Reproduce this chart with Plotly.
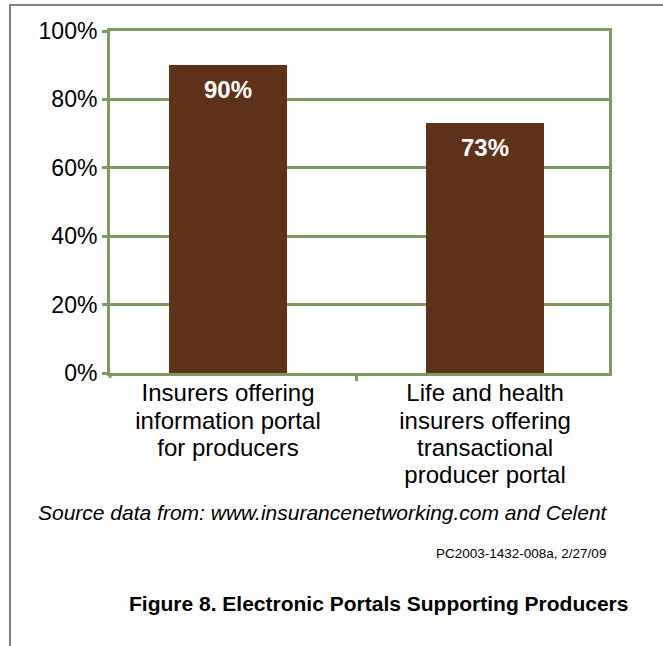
import plotly.graph_objects as go

categories = ["Insurers offering information portal for producers",
              "Life and health insurers offering transactional producer portal"]
category_lines = [["Insurers offering", "information portal", "for producers"],
                  ["Life and health", "insurers offering", "transactional", "producer portal"]]
values = [0.90, 0.73]
value_labels = ["90%", "73%"]
y_tick_vals = [0, 0.2, 0.4, 0.6, 0.8, 1.0]
y_tick_text = ["0%", "20%", "40%", "60%", "80%", "100%"]

source_text = "Source data from: www.insurancenetworking.com and Celent"
footer_text = "PC2003-1432-008a, 2/27/09"
title_text = "Figure 8. Electronic Portals Supporting Producers"

W_FIG, H_FIG = 663, 646
L, T, R_EDGE, B_EDGE = 110, 31, 609, 373
PW, PH = R_EDGE - L, B_EDGE - T

def px(x):
    return (x - L) / PW

def py(y):
    return (B_EDGE - y) / PH

FONT = "Liberation Sans, Arial, sans-serif"
GREEN = "#7F9A60"
BROWN = "#5E3219"

tick_text = ["<br>".join('<span style="font-size:24px">%s</span>' % ln for ln in lines)
             for lines in category_lines]

fig = go.Figure()
fig.add_trace(go.Bar(
    x=categories, y=values, width=0.459,
    marker=dict(color=BROWN, line=dict(width=0)),
    hoverinfo="skip",
))

for cat, val, lab in zip(categories, values, value_labels):
    fig.add_annotation(x=cat, y=val, xref="x", yref="y", text=lab,
                       showarrow=False, yanchor="top", yshift=-9,
                       font=dict(family=FONT, size=24, color="white", weight="bold"))

fig.update_layout(
    width=W_FIG, height=H_FIG,
    margin=dict(l=L, r=W_FIG - R_EDGE, t=T, b=H_FIG - B_EDGE, pad=0),
    paper_bgcolor="white", plot_bgcolor="white",
    showlegend=False, bargap=0,
    font=dict(family=FONT, color="black"),
    xaxis=dict(
        range=[-0.459, 1.482], showgrid=False,
        tickmode="array", tickvals=categories, ticktext=tick_text,
        showline=True, linecolor=GREEN, linewidth=3, mirror=True,
        ticks="outside", tickson="boundaries", ticklen=5, tickwidth=3, tickcolor=GREEN,
        tickfont=dict(family=FONT, size=21, color="black"),
        zeroline=False,
    ),
    yaxis=dict(
        range=[0, 1.0], tickvals=y_tick_vals, ticktext=y_tick_text,
        showgrid=True, gridcolor=GREEN, gridwidth=3,
        showline=True, linecolor=GREEN, linewidth=3, mirror=True,
        ticks="outside", ticklen=5, tickwidth=3, tickcolor=GREEN,
        tickfont=dict(family=FONT, size=23, color="black"),
        zeroline=False,
    ),
)

# outer gray frame (top and left edges)
fig.add_shape(type="line", xref="paper", yref="paper",
              x0=px(9), x1=px(663), y0=py(5), y1=py(5),
              line=dict(color="#808080", width=2))
fig.add_shape(type="line", xref="paper", yref="paper",
              x0=px(10), x1=px(10), y0=py(4), y1=py(646),
              line=dict(color="#808080", width=2))
# small tick below left axis corner
fig.add_shape(type="line", xref="paper", yref="paper",
              x0=0, x1=0, y0=py(373), y1=py(378),
              line=dict(color=GREEN, width=3))

fig.add_annotation(text=source_text, xref="paper", yref="paper",
                   x=px(323), y=py(512), xanchor="center", yanchor="middle",
                   showarrow=False, font=dict(family=FONT, size=21, style="italic", color="black"))
fig.add_annotation(text=footer_text, xref="paper", yref="paper",
                   x=px(608), y=py(553), xanchor="right", yanchor="middle",
                   showarrow=False, font=dict(family=FONT, size=13.5, color="black"))
fig.add_annotation(text=title_text, xref="paper", yref="paper",
                   x=px(378.5), y=py(603), xanchor="center", yanchor="middle",
                   showarrow=False, font=dict(family=FONT, size=21, weight="bold", color="black"))

fig.write_html("out.html")
